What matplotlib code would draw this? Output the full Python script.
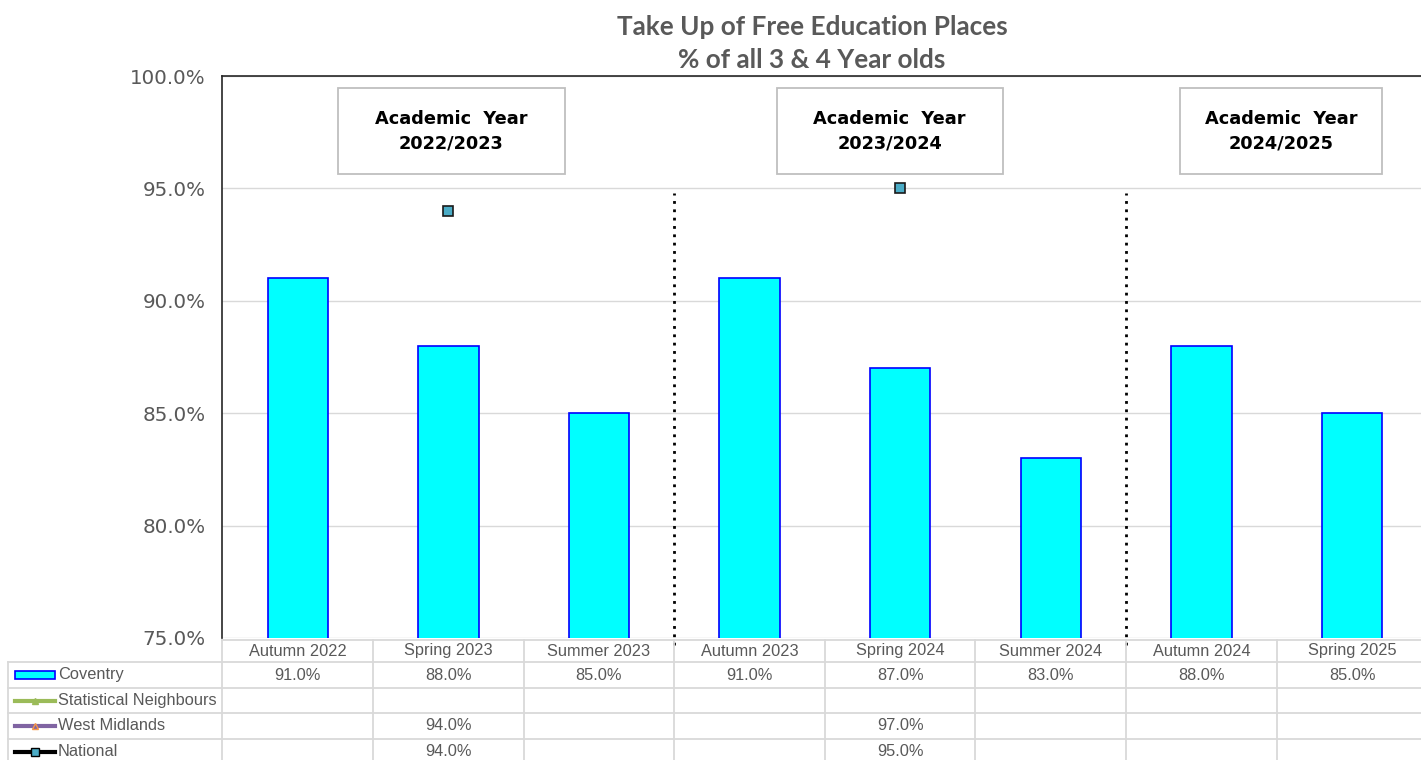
import numpy as np
import matplotlib
matplotlib.use("Agg")
import matplotlib.pyplot as plt
from matplotlib.patches import Rectangle
from matplotlib.lines import Line2D

# ── Data ─────────────────────────────────────────────────────────────────────
categories = ["Autumn 2022", "Spring 2023", "Summer 2023", "Autumn 2023",
              "Spring 2024", "Summer 2024", "Autumn 2024", "Spring 2025"]
coventry = [91.0, 88.0, 85.0, 91.0, 87.0, 83.0, 88.0, 85.0]
stat_neigh = [np.nan] * 8
west_mid = [np.nan, 94.0, np.nan, np.nan, 97.0, np.nan, np.nan, np.nan]
national = [np.nan, 94.0, np.nan, np.nan, 95.0, np.nan, np.nan, np.nan]

year_labels = ["2022/2023", "2023/2024", "2024/2025"]
year_groups = [(0, 2), (3, 5), (6, 7)]
year_dividers = [2.5, 5.5]

# ── Palette ──────────────────────────────────────────────────────────────────
GREY_TXT = "#595959"
GRID = "#D9D9D9"
BAR_FACE = "#00FFFF"
BAR_EDGE = "#0000FF"
NAT_FACE = "#4BACC6"
SN_COL = "#9BBB59"
WM_COL = "#8064A2"
WM_MARK = "#F79646"

W, H = 1421, 760
fig = plt.figure(figsize=(W / 100, H / 100), dpi=100)

# main plot spans past the right edge, like the cropped original
cat_w = 150.6
ax_left, ax_top, ax_bot = 222.5, 76, 638
ax_w = cat_w * len(categories)
ax = fig.add_axes([ax_left / W, (H - ax_bot) / H, ax_w / W, (ax_bot - ax_top) / H])
x = np.arange(len(categories))

ax.bar(x, coventry, width=0.4, bottom=0, color=BAR_FACE, edgecolor=BAR_EDGE,
       linewidth=1.2, zorder=3)
ax.plot(x, west_mid, linestyle="none", marker="^", ms=4, mfc=WM_MARK,
        mec=WM_MARK, zorder=4)
ax.plot(x, national, linestyle="none", marker="s", ms=7.5, mfc=NAT_FACE,
        mec="#1a1a1a", mew=1.2, zorder=5)

ax.set_xlim(-0.5, len(categories) - 0.5)
ax.set_ylim(75, 100)
ax.set_yticks([75, 80, 85, 90, 95, 100])
ax.set_yticklabels([f"{v:.1f}%" for v in [75, 80, 85, 90, 95, 100]],
                   fontsize=14.3, color=GREY_TXT, family="DejaVu Sans")
ax.tick_params(axis="y", length=0, pad=12)
ax.set_xticks([])
ax.grid(axis="y", color=GRID, linewidth=1.0, zorder=0)
for s in ["right", "bottom"]:
    ax.spines[s].set_visible(False)
ax.spines["left"].set_color("#262626")
ax.spines["top"].set_color("#262626")
ax.spines["left"].set_linewidth(1.2)
ax.spines["top"].set_linewidth(1.2)

# dotted dividers between academic years
for d in year_dividers:
    ax.plot([d, d], [74.7, 94.8], color="black", linestyle=(0, (1, 2)),
            linewidth=2.0, clip_on=False, zorder=6)

# academic year boxes
box_w = [1.51, 1.5, 1.34]
box_dx = [0.02, -0.07, 0.03]
for (a, b), lab, bw, dx in zip(year_groups, year_labels, box_w, box_dx):
    cx = (a + b) / 2 + dx
    ax.add_patch(Rectangle((cx - bw / 2, 95.65), bw, 3.83, facecolor="white",
                           edgecolor="#BFBFBF", linewidth=1.3, zorder=7))
    ax.text(cx, 97.55, "Academic  Year\n" + lab, ha="center", va="center",
            fontsize=12.8, fontweight="bold", family="DejaVu Sans",
            color="black", linespacing=1.45, zorder=8)

# ── Data table ───────────────────────────────────────────────────────────────
tb = fig.add_axes([ax_left / W, 0, ax_w / W, (H - ax_bot) / H])
tb.set_xlim(-0.5, len(categories) - 0.5)
tb.set_ylim(H - ax_bot, 0)   # pixel rows measured down from plot bottom
tb.axis("off")

row_lines = [2, 24, 50, 75, 101, 126]
x_left = -0.5 - (ax_left - 8) / cat_w
lkw = dict(color=GRID, linewidth=1.3, clip_on=False, zorder=1)
tb.plot([-0.5, len(categories) - 0.5], [row_lines[0]] * 2, **lkw)
for yy in row_lines[1:]:
    tb.plot([x_left, len(categories) - 0.5], [yy, yy], **lkw)
tb.plot([x_left, x_left], [row_lines[1], row_lines[-1]], **lkw)
for k in range(len(categories) + 1):
    tb.plot([k - 0.5, k - 0.5], [row_lines[0], row_lines[-1]], **lkw)

centers = [(row_lines[i] + row_lines[i + 1]) / 2 for i in range(5)]
tkw = dict(ha="center", va="center", fontsize=11.8, color=GREY_TXT,
           family="Liberation Sans")
for i, c in enumerate(categories):
    tb.text(i, centers[0], c, **tkw)
series = [coventry, stat_neigh, west_mid, national]
for r, vals in enumerate(series):
    for i, v in enumerate(vals):
        if not np.isnan(v):
            tb.text(i, centers[r + 1], f"{v:.1f}%", **tkw)

# legend keys in the first column
k0 = x_left + 7 / cat_w
k1 = x_left + 47 / cat_w
kt = x_left + 50 / cat_w
names = ["Coventry", "Statistical Neighbours", "West Midlands", "National"]
tb.add_patch(Rectangle((k0, centers[1] - 4), k1 - k0, 8, facecolor=BAR_FACE,
                       edgecolor=BAR_EDGE, linewidth=1.2, clip_on=False))
km = (k0 + k1) / 2
tb.add_line(Line2D([k0, k1], [centers[2]] * 2, color=SN_COL, linewidth=3,
                   clip_on=False))
tb.add_line(Line2D([km], [centers[2]], marker="^", ms=4, color=SN_COL,
                   clip_on=False))
tb.add_line(Line2D([k0, k1], [centers[3]] * 2, color=WM_COL, linewidth=3,
                   clip_on=False))
tb.add_line(Line2D([km], [centers[3]], marker="^", ms=5, mfc=WM_COL,
                   mec=WM_MARK, clip_on=False))
tb.add_line(Line2D([k0, k1], [centers[4]] * 2, color="black", linewidth=3,
                   clip_on=False))
tb.add_line(Line2D([km], [centers[4]], marker="s", ms=6, mfc=NAT_FACE,
                   mec="black", clip_on=False))
for r, n in enumerate(names):
    tb.text(kt, centers[r + 1], n, ha="left", va="center", fontsize=11.8,
            color=GREY_TXT, family="Liberation Sans", clip_on=False)

# ── Title ────────────────────────────────────────────────────────────────────
fig.text(812 / W, 1 - 27 / H, "Take Up of Free Education Places", ha="center",
         va="center", fontsize=18.8, fontweight="bold", color=GREY_TXT,
         family="Lato")
fig.text(812 / W, 1 - 60 / H, "% of all 3 & 4 Year olds", ha="center",
         va="center", fontsize=18.8, fontweight="bold", color=GREY_TXT,
         family="Lato")

fig.savefig("out.png", dpi=100, facecolor="white")
